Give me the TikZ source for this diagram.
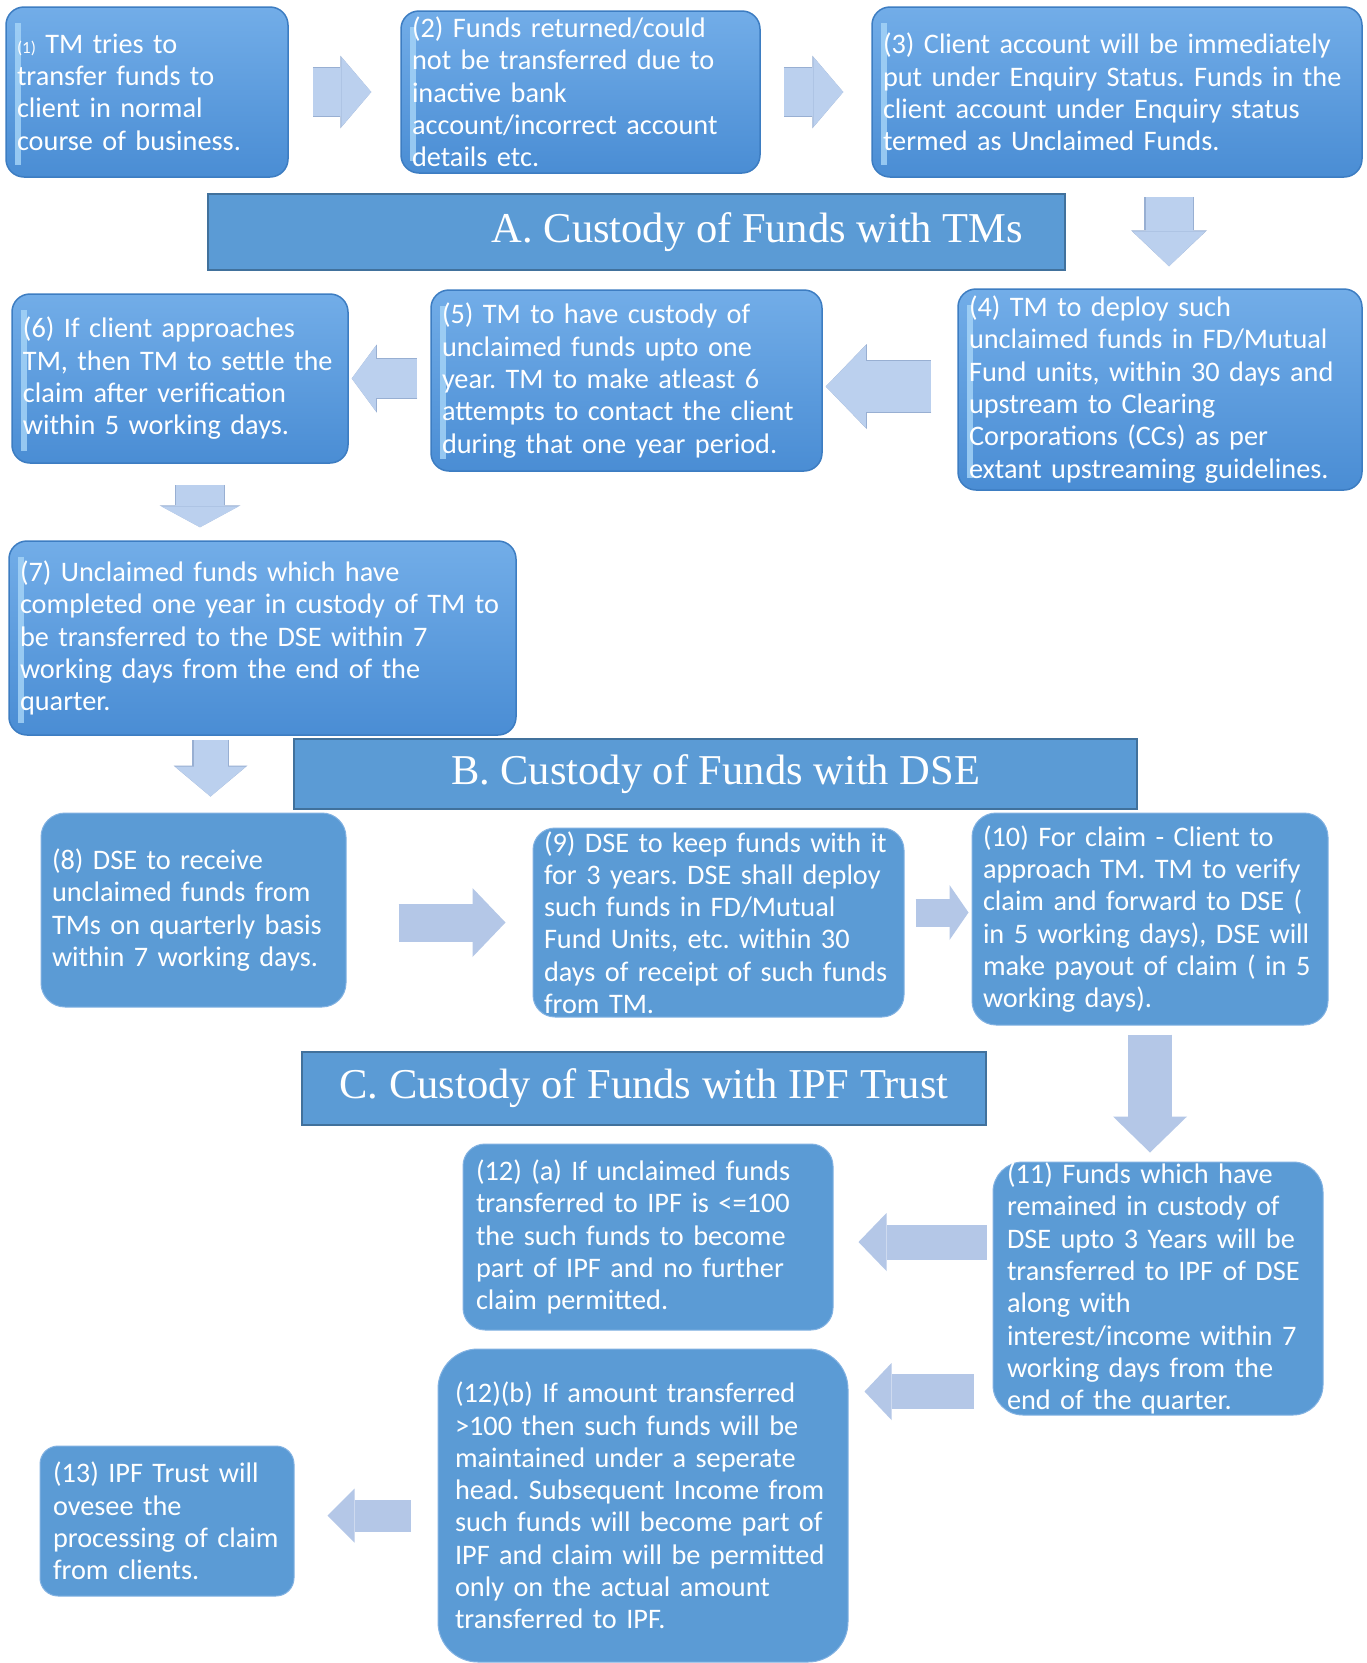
\documentclass[tikz,border=0pt]{standalone}
\usepackage{fontspec}
\setmainfont{Carlito}
\newfontfamily\headfont{Liberation Serif}
\usetikzlibrary{arrows.meta, calc}
\frenchspacing

\definecolor{glosstop}{HTML}{72ADE8}
\definecolor{glossbot}{HTML}{4A8DD4}
\definecolor{glossedge}{HTML}{3D7DC2}
\definecolor{bevel}{HTML}{A8D6F8}
\definecolor{flatblue}{HTML}{5B9BD5}
\definecolor{flatedge}{HTML}{82B2E2}
\definecolor{headedge}{HTML}{41719C}
\definecolor{arrowtop}{HTML}{BBD0EE}
\definecolor{arrowedge}{HTML}{98AFD2}
\definecolor{arrowlow}{HTML}{B4C7E7}

\begin{document}
\begin{tikzpicture}[
    x=1pt, y=-1pt,
    glossy/.style={rectangle, rounded corners=18pt, draw=glossedge, line width=1.5pt, top color=glosstop, bottom color=glossbot, text=white, align=left, inner xsep=11pt, inner ysep=0pt, font=\fontsize{28.3pt}{32.3pt}\selectfont,
        path picture={\fill[bevel, opacity=0.8, sharp corners] ([xshift=9pt,yshift=-16pt]path picture bounding box.north west) rectangle ([xshift=15pt,yshift=12pt]path picture bounding box.south west);}},
    flat/.style={rectangle, rounded corners=24pt, draw=flatedge, line width=1pt, fill=flatblue, text=white, align=left, inner xsep=11pt, inner ysep=0pt, font=\fontsize{28.3pt}{32.3pt}\selectfont},
    header/.style={rectangle, draw=headedge, line width=2.5pt, fill=flatblue, text=white, inner sep=0pt, font=\headfont\fontsize{42.5pt}{50pt}\selectfont},
    blk/.style n args={3}{line width=#1, -{Triangle[length=#3, width=#2, line width=0pt 0 0]}},
    edge/.style n args={3}{preaction={draw=arrowedge, line width=#1, -{Triangle[length=#3, width=#2, line width=0pt 0 0]}}},
    toparrow/.style={draw=arrowtop},
    lowarrow/.style={draw=arrowlow},
]
\path[use as bounding box, fill=white] (0,0) rectangle (1366,1663);

% A. Custody of funds with TMs
\node[glossy, text width=260pt, minimum height=170pt] (box1) at (147,92) {{\fontsize{17pt}{20pt}\selectfont(1)} TM tries to\\transfer funds to\\client in normal\\course of business.};
\node[glossy, text width=337pt, minimum height=162pt] (box2) at (580.5,92) {(2) Funds returned/could\\not be transferred due to\\inactive bank\\account/incorrect account\\details etc.};
\node[glossy, text width=468pt, minimum height=170pt] (box3) at (1117,92) {(3) Client account will be immediately\\put under Enquiry Status. Funds in the\\client account under Enquiry status\\termed as Unclaimed Funds.};
\node[header, minimum width=857pt, minimum height=76pt] (custA) at (636.5,232) {\hspace*{242pt}A. Custody of Funds with TMs};
\node[glossy, text width=382pt, minimum height=201pt] (box4) at (1160,389.5) {(4) TM to deploy such\\unclaimed funds in FD/Mutual\\Fund units, within 30 days and\\upstream to Clearing\\Corporations (CCs) as per\\extant upstreaming guidelines.};
\node[glossy, text width=369pt, minimum height=181pt] (box5) at (626.5,380.5) {(5) TM to have custody of\\unclaimed funds upto one\\year. TM to make atleast 6\\attempts to contact the client\\during that one year period.};
\node[glossy, text width=314pt, minimum height=169pt] (box6) at (180,378.5) {(6) If client approaches\\TM, then TM to settle the\\claim after verification\\within 5 working days.};
\node[glossy, text width=485pt, minimum height=194pt] (box7) at (262.5,638) {(7) Unclaimed funds which have\\completed one year in custody of TM to\\be transferred to the DSE within 7\\working days from the end of the\\quarter.};

% B. Custody of funds with DSE
\node[header, minimum width=843pt, minimum height=70pt] (custB) at (715.5,774) {B. Custody of Funds with DSE};
\node[flat, text width=283pt, minimum height=194pt] (box8) at (193.5,910) {(8) DSE to receive\\unclaimed funds from\\TMs on quarterly basis\\within 7 working days.};
\node[flat, rounded corners=22pt, text width=349pt, minimum height=189pt] (box9) at (718.5,922.5) {(9) DSE to keep funds with it\\for 3 years. DSE shall deploy\\such funds in FD/Mutual\\Fund Units, etc. within 30\\days of receipt of such funds\\from TM.};
\node[flat, text width=334pt, minimum height=212pt] (box10) at (1150,919) {(10) For claim - Client to\\approach TM. TM to verify\\claim and forward to DSE (\\in 5 working days), DSE will\\make payout of claim ( in 5\\working days).};

% C. Custody of funds with IPF Trust
\node[header, minimum width=684pt, minimum height=73pt] (custC) at (644,1088.5) {C. Custody of Funds with IPF Trust};
\node[flat, rounded corners=30pt, inner xsep=14pt, text width=302pt, minimum height=253pt] (box11) at (1158,1288.5) {(11) Funds which have\\remained in custody of\\DSE upto 3 Years will be\\transferred to IPF of DSE\\along with\\interest/income within 7\\working days from the\\end of the quarter.};
\node[flat, rounded corners=22pt, inner xsep=13pt, text width=344pt, minimum height=186pt] (box12a) at (648,1237) {(12) (a) If unclaimed funds\\transferred to IPF is <=100\\the such funds to become\\part of IPF and no further\\claim permitted.};
\node[flat, rounded corners=40pt, inner xsep=17pt, text width=376pt, minimum height=313pt] (box12b) at (643,1505.5) {(12)(b) If amount transferred\\>100 then such funds will be\\maintained under a seperate\\head. Subsequent Income from\\such funds will become part of\\IPF and claim will be permitted\\only on the actual amount\\transferred to IPF.};
\node[flat, rounded corners=18pt, inner xsep=13pt, text width=228pt, minimum height=150pt] (box13) at (167,1521) {(13) IPF Trust will\\ovesee the\\processing of claim\\from clients.};

% Arrows
\draw[toparrow, edge={50.5pt}{73pt}{31pt}, blk={48pt}{70pt}{30pt}, shorten <=24pt, shorten >=29pt] (box1.east) -- (box2.west);
\draw[toparrow, edge={50.5pt}{73pt}{31pt}, blk={48pt}{70pt}{30pt}, shorten <=23pt, shorten >=28pt] (box2.east) -- (box3.west);
\draw[toparrow, edge={49.5pt}{76pt}{36pt}, blk={47pt}{73pt}{35pt}, shorten <=19pt, shorten >=22pt] ($(box3.south -| box4.north)+(9,0)$) -- ($(box4.north)+(9,0)$);
\draw[toparrow, edge={53.5pt}{85pt}{41pt}, blk={51pt}{82pt}{40pt}, shorten <=26pt, shorten >=3pt] ($(box4.west)+(0,-3)$) -- ($(box4.west -| box5.east)+(0,-3)$);
\draw[toparrow, edge={41.5pt}{68pt}{25pt}, blk={39pt}{65pt}{24pt}, shorten <=13pt, shorten >=3pt] (box5.west |- box6.east) -- (box6.east);
\draw[toparrow, edge={50.5pt}{81pt}{22pt}, blk={48pt}{78pt}{21pt}, shorten <=21pt, shorten >=13pt] ($(box6.south)+(20,0)$) -- ($(box6.south |- box7.north)+(20,0)$);
\draw[toparrow, edge={36.5pt}{74pt}{31pt}, blk={34pt}{71pt}{30pt}, shorten <=4pt, shorten >=16pt] ($(box8.north |- box7.south)+(17,0)$) -- ($(box8.north)+(17,0)$);

\draw[lowarrow, blk={38pt}{69pt}{33pt}, shorten <=52pt, shorten >=27pt] (box8.east |- box9.west) -- (box9.west);
\draw[lowarrow, blk={28pt}{55pt}{19pt}, shorten <=11pt, shorten >=3pt] ($(box9.east)+(0,-10)$) -- ($(box9.east -| box10.west)+(0,-10)$);
\draw[lowarrow, blk={44pt}{74pt}{36pt}, shorten <=9pt, shorten >=9pt] (box10.south) -- (box10.south |- box11.north);
\draw[lowarrow, blk={35pt}{58pt}{28pt}, shorten <=6pt, shorten >=25pt] ($(box12a.east -| box11.west)+(0,5)$) -- ($(box12a.east)+(0,5)$);
\draw[lowarrow, blk={35pt}{57pt}{27pt}, shorten <=19pt, shorten >=16pt] ($(box11.west)+(0,103)$) -- ($(box11.west -| box12b.east)+(0,103)$);
\draw[lowarrow, blk={32pt}{54pt}{27pt}, shorten <=27pt, shorten >=33pt] ($(box12b.west)+(0,10)$) -- ($(box12b.west -| box13.east)+(0,10)$);

\end{tikzpicture}
\end{document}
